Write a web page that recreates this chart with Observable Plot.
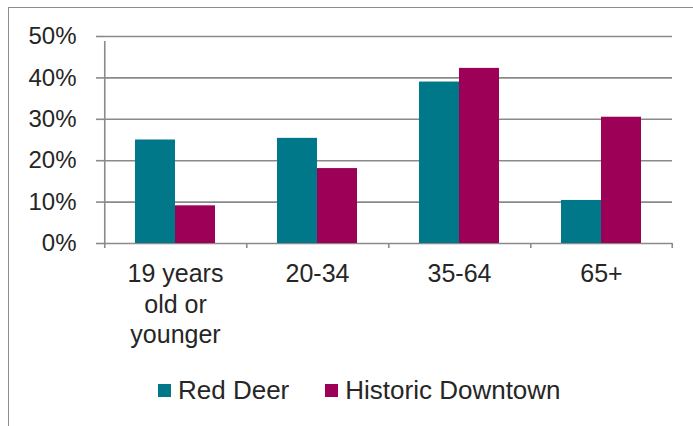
<!DOCTYPE html>
<html>
<head>
<meta charset="utf-8">
<script src="https://cdn.jsdelivr.net/npm/d3@7"></script>
<script src="https://cdn.jsdelivr.net/npm/@observablehq/plot@0.6"></script>
<style>
  body { margin: 0; background: #fff; font-family: Arial, "Liberation Sans", sans-serif; }
  #wrap { position: relative; width: 693px; height: 426px; overflow: hidden; background: #fff; }
  #border { position: absolute; left: 8px; top: 7px; width: 800px; height: 600px;
            border-left: 1.5px solid #8c8c8c; border-top: 1.5px solid #8c8c8c; }
  #chart { position: absolute; left: 0; top: 0; }
  #legend { position: absolute; top: 375px; left: 158px; display: flex; align-items: center;
            font-size: 26px; color: #262626; white-space: nowrap; }
  .item { display: flex; align-items: center; margin-right: 36px; }
  .sw { width: 13px; height: 13px; margin-right: 7px; }
</style>
</head>
<body>
<div id="wrap">
  <div id="border"></div>
  <div id="chart"></div>
  <div id="legend"></div>
</div>
<script>
const categories = ["19 years old or younger", "20-34", "35-64", "65+"];
const tickLabels = ["19 years\nold or\nyounger", "20-34", "35-64", "65+"];
const series = ["Red Deer", "Historic Downtown"];
const redDeer = [0.250, 0.254, 0.390, 0.104];
const historicDowntown = [0.091, 0.181, 0.423, 0.305];
const yTicks = [0, 0.1, 0.2, 0.3, 0.4, 0.5];
const colors = ["#00788a", "#9c0057"];

const data = [];
categories.forEach((c, i) => {
  data.push({cat: c, series: series[0], value: redDeer[i]});
  data.push({cat: c, series: series[1], value: historicDowntown[i]});
});

const W = 693, H = 360, mL = 103, mR = 20, mT = 36, mB = 117;
const padOuter = 0.7378;
const facetW = (W - mL - mR) / categories.length;
const step = facetW / (series.length + 2 * padOuter);
const edge = (padOuter + 0.5) * step;
const gridColor = "#8a8a8a";

const chart = Plot.plot({
  width: W, height: H,
  marginTop: mT, marginBottom: mB, marginLeft: mL, marginRight: mR,
  style: {fontFamily: "Arial, 'Liberation Sans', sans-serif", color: "#262626", background: "transparent", overflow: "visible"},
  fx: {domain: categories, padding: 0, label: null, axis: null},
  x: {domain: series, paddingInner: 0, paddingOuter: padOuter, axis: null},
  y: {domain: [0, 0.5], axis: null},
  color: {domain: series, range: colors},
  marks: [
    Plot.gridY(yTicks, {stroke: gridColor, strokeOpacity: 1, strokeWidth: 1.6}),
    Plot.axisY(yTicks, {tickSize: 8, tickPadding: 20, tickFormat: d3.format(".0%"),
      stroke: gridColor, strokeWidth: 1.6, fontSize: 24, label: null}),
    Plot.barY(data, {fx: "cat", x: "series", y: "value", fill: "series"}),
    Plot.ruleX(categories, {fx: d => d, x: () => series[0], y1: 0, y2: 0, dx: -edge,
      insetBottom: -5, stroke: gridColor, strokeWidth: 1.6}),
    Plot.ruleX([categories[categories.length - 1]], {fx: d => d, x: () => series[1], y1: 0, y2: 0, dx: edge,
      insetBottom: -5, stroke: gridColor, strokeWidth: 1.6}),
    Plot.ruleX([categories[0]], {fx: d => d, x: () => series[0], y1: 0, y2: 0.5, dx: -edge,
      insetBottom: -5, stroke: gridColor, strokeWidth: 1.6}),
    Plot.axisFx({anchor: "bottom", tickSize: 0, tickPadding: 17, fontSize: 25, lineHeight: 1.22, label: null,
      tickFormat: d => tickLabels[categories.indexOf(d)]})
  ]
});
document.getElementById("chart").appendChild(chart);

const legend = document.getElementById("legend");
series.forEach((s, i) => {
  const item = document.createElement("div");
  item.className = "item";
  const sw = document.createElement("div");
  sw.className = "sw";
  sw.style.background = colors[i];
  const label = document.createElement("span");
  label.textContent = s;
  item.appendChild(sw);
  item.appendChild(label);
  legend.appendChild(item);
});
</script>
</body>
</html>
